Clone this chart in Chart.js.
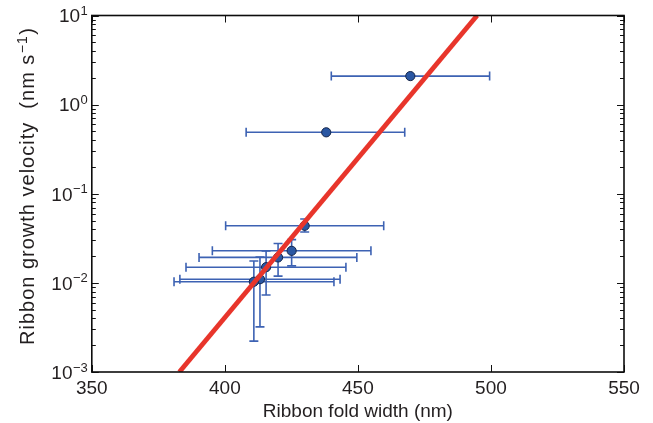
<!DOCTYPE html>
<html><head><meta charset="utf-8">
<script src="https://cdn.jsdelivr.net/npm/chart.js@4.4.1/dist/chart.umd.min.js"></script>
<style>html,body{margin:0;padding:0;background:#fff}canvas{display:block}</style>
</head><body>
<canvas id="c" width="653" height="423"></canvas>
<script>
// ---- data ----
const foldWidth      = [469.7, 438.1, 430.0, 425.1, 420.0, 415.5, 413.2, 410.9];
const foldWidthLow   = [440.0, 408.0, 400.3, 395.3, 390.3, 385.4, 383.1, 380.9];
const foldWidthHigh  = [499.5, 467.6, 459.7, 454.9, 449.6, 445.5, 443.3, 441.0];
const growthVelocity = [2.09, 0.489, 0.0437, 0.0229, 0.0193, 0.0150, 0.0110, 0.0103];
const velocityLow    = [null, null, 0.0372, 0.0155, 0.0119, 0.0073, 0.00321, 0.00222];
const velocityHigh   = [null, null, 0.0520, 0.0306, 0.0277, 0.0228, 0.0195, 0.0176];
const fitWidth       = [382.9, 494.8];
const fitVelocity    = [0.001, 10];
const xTickValues    = [350, 400, 450, 500, 550];
const yTickExponents = [-3, -2, -1, 0, 1];
const xTitle = "Ribbon fold width (nm)";
const yTitleMain = "Ribbon growth velocity  (nm s";
const yTitleSup = "\u22121";
const yTitleEnd = ")";

const FONT = '"Liberation Sans", Arial, Helvetica, sans-serif';
const TEXT = '#231f20';
const BAR = '#3d62b3';

const pointData = foldWidth.map((x, i) => ({x: x, y: growthVelocity[i]}));
const fitData = fitWidth.map((x, i) => ({x: x, y: fitVelocity[i]}));

const decorPlugin = {
  id: 'decor',
  beforeDatasetsDraw(chart) {
    const ctx = chart.ctx, xs = chart.scales.x, ys = chart.scales.y;
    ctx.save();
    ctx.strokeStyle = BAR;
    ctx.lineWidth = 1.6;
    const cap = 4.5;
    foldWidth.forEach((xv, i) => {
      const py = ys.getPixelForValue(growthVelocity[i]);
      const x1 = xs.getPixelForValue(foldWidthLow[i]);
      const x2 = xs.getPixelForValue(foldWidthHigh[i]);
      ctx.beginPath();
      ctx.moveTo(x1, py); ctx.lineTo(x2, py);
      ctx.moveTo(x1, py - cap); ctx.lineTo(x1, py + cap);
      ctx.moveTo(x2, py - cap); ctx.lineTo(x2, py + cap);
      ctx.stroke();
      if (velocityLow[i] !== null) {
        const px = xs.getPixelForValue(xv);
        const y1 = ys.getPixelForValue(velocityLow[i]);
        const y2 = ys.getPixelForValue(velocityHigh[i]);
        ctx.beginPath();
        ctx.moveTo(px, y1); ctx.lineTo(px, y2);
        ctx.moveTo(px - cap, y1); ctx.lineTo(px + cap, y1);
        ctx.moveTo(px - cap, y2); ctx.lineTo(px + cap, y2);
        ctx.stroke();
      }
    });
    ctx.restore();
  },
  afterDatasetsDraw(chart) {
    const ctx = chart.ctx, a = chart.chartArea, xs = chart.scales.x, ys = chart.scales.y;
    ctx.save();
    ctx.strokeStyle = '#111';
    ctx.lineWidth = 1;
    for (let e = yTickExponents[0]; e <= yTickExponents[yTickExponents.length - 1]; e++) {
      const py = Math.round(ys.getPixelForValue(Math.pow(10, e))) + 0.5;
      ctx.beginPath();
      ctx.moveTo(a.left, py); ctx.lineTo(a.left + 7, py);
      ctx.moveTo(a.right, py); ctx.lineTo(a.right - 7, py);
      ctx.stroke();
      if (e < yTickExponents[yTickExponents.length - 1]) {
        for (let m = 2; m <= 9; m++) {
          const my = Math.round(ys.getPixelForValue(m * Math.pow(10, e))) + 0.5;
          ctx.beginPath();
          ctx.moveTo(a.left, my); ctx.lineTo(a.left + 4, my);
          ctx.moveTo(a.right, my); ctx.lineTo(a.right - 4, my);
          ctx.stroke();
        }
      }
    }
    xTickValues.forEach(v => {
      const px = Math.round(xs.getPixelForValue(v)) + 0.5;
      ctx.beginPath();
      ctx.moveTo(px, a.bottom); ctx.lineTo(px, a.bottom - 7);
      ctx.moveTo(px, a.top); ctx.lineTo(px, a.top + 7);
      ctx.stroke();
    });
    ctx.lineWidth = 1.6;
    ctx.strokeStyle = '#0d0d0d';
    ctx.strokeRect(a.left, a.top, a.right - a.left, a.bottom - a.top);
    ctx.restore();
  },
  afterDraw(chart) {
    const ctx = chart.ctx, a = chart.chartArea, xs = chart.scales.x, ys = chart.scales.y;
    ctx.save();
    ctx.fillStyle = TEXT;
    ctx.font = '19px ' + FONT;
    ctx.textAlign = 'center';
    ctx.textBaseline = 'alphabetic';
    xTickValues.forEach(v => {
      ctx.fillText(String(v), xs.getPixelForValue(v), 394);
    });
    ctx.fillText(xTitle, (a.left + a.right) / 2, 417);
    ctx.textAlign = 'right';
    yTickExponents.forEach(e => {
      const py = ys.getPixelForValue(Math.pow(10, e));
      const sup = e < 0 ? '\u2212' + Math.abs(e) : String(e);
      ctx.font = '13px ' + FONT;
      const sw = ctx.measureText(sup).width;
      const rx = a.left - 4;
      ctx.fillText(sup, rx, py - 0.5);
      ctx.font = '19px ' + FONT;
      ctx.fillText('10', rx - sw - 0.5, py + 6.8);
    });
    // y title (rotated)
    ctx.translate(34, 186);
    ctx.rotate(-Math.PI / 2);
    ctx.textAlign = 'left';
    try { ctx.letterSpacing = '1px'; } catch (err) {}
    ctx.font = '20px ' + FONT;
    const w1 = ctx.measureText(yTitleMain).width;
    const w3 = ctx.measureText(yTitleEnd).width;
    ctx.font = '14px ' + FONT;
    const w2 = ctx.measureText(yTitleSup).width;
    const total = w1 + w2 + w3 + 1;
    let x0 = -total / 2;
    ctx.font = '20px ' + FONT;
    ctx.fillText(yTitleMain, x0, 0);
    ctx.font = '14px ' + FONT;
    ctx.fillText(yTitleSup, x0 + w1 + 0.5, -7.5);
    ctx.font = '20px ' + FONT;
    ctx.fillText(yTitleEnd, x0 + w1 + w2 + 1, 0);
    ctx.restore();
  }
};

new Chart(document.getElementById('c').getContext('2d'), {
  type: 'scatter',
  data: {
    datasets: [
      {
        type: 'line',
        data: fitData,
        borderColor: '#e8352b',
        borderWidth: 4.8,
        pointRadius: 0,
        fill: false,
        tension: 0,
        clip: 0
      },
      {
        data: pointData,
        pointRadius: 4.6,
        pointHoverRadius: 4.6,
        backgroundColor: '#2a57a3',
        borderColor: '#15254a',
        borderWidth: 1
      }
    ]
  },
  options: {
    responsive: false,
    devicePixelRatio: 1,
    animation: false,
    events: [],
    layout: {padding: {left: 0, right: 29, top: 15.5, bottom: 0}},
    plugins: {legend: {display: false}, tooltip: {enabled: false}},
    scales: {
      x: {
        type: 'linear', min: 350, max: 550,
        grid: {display: false}, border: {display: false},
        ticks: {display: false},
        afterFit(s) { s.height = 51; }
      },
      y: {
        type: 'logarithmic', min: 0.001, max: 10,
        grid: {display: false}, border: {display: false},
        ticks: {display: false},
        afterFit(s) { s.width = 91.8; }
      }
    }
  },
  plugins: [decorPlugin]
});
</script>
</body></html>
